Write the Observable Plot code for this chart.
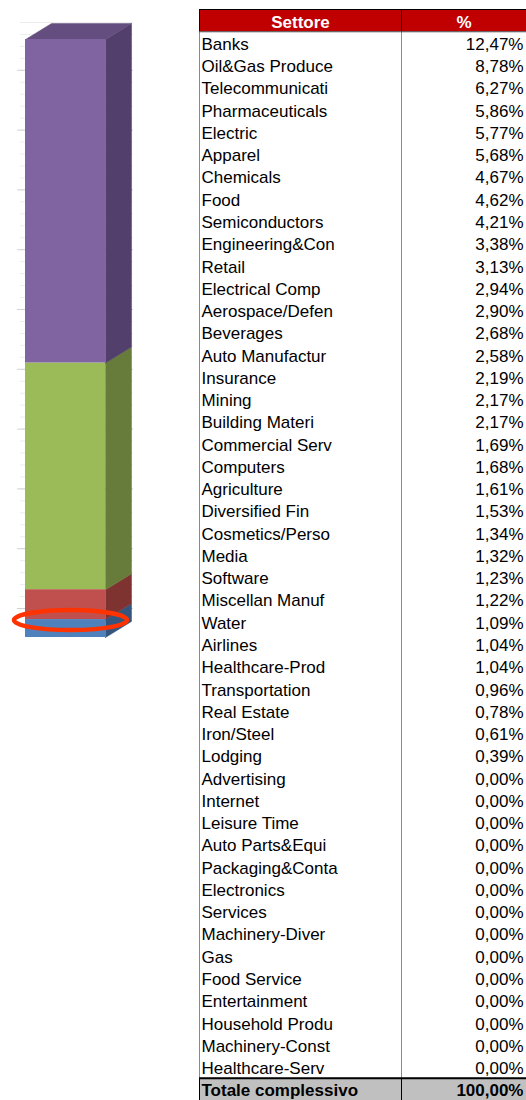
<!DOCTYPE html>
<html><head><meta charset="utf-8">
<script src="https://cdn.jsdelivr.net/npm/d3@7"></script>
<script src="https://cdn.jsdelivr.net/npm/@observablehq/plot@0.6"></script>
<style>
body{margin:0;background:#fff;}
#wrap{display:flex;align-items:flex-start;width:526px;height:1100px;overflow:hidden;}
#wrap svg{flex:none;max-width:none;}
</style></head><body><div id="wrap"></div>
<script>
// ---------- data ----------
const headers = ["Settore", "%"];
const sectors = ["Banks","Oil&Gas Produce","Telecommunicati","Pharmaceuticals","Electric","Apparel","Chemicals","Food","Semiconductors","Engineering&Con","Retail","Electrical Comp","Aerospace/Defen","Beverages","Auto Manufactur","Insurance","Mining","Building Materi","Commercial Serv","Computers","Agriculture","Diversified Fin","Cosmetics/Perso","Media","Software","Miscellan Manuf","Water","Airlines","Healthcare-Prod","Transportation","Real Estate","Iron/Steel","Lodging","Advertising","Internet","Leisure Time","Auto Parts&Equi","Packaging&Conta","Electronics","Services","Machinery-Diver","Gas","Food Service","Entertainment","Household Produ","Machinery-Const","Healthcare-Serv"];
const shares = [12.47,8.78,6.27,5.86,5.77,5.68,4.67,4.62,4.21,3.38,3.13,2.94,2.90,2.68,2.58,2.19,2.17,2.17,1.69,1.68,1.61,1.53,1.34,1.32,1.23,1.22,1.09,1.04,1.04,0.96,0.78,0.61,0.39,0,0,0,0,0,0,0,0,0,0,0,0,0,0];
const totalLabel = "Totale complessivo";
const totalShare = 100.00;

const groups = ["Gruppo 1","Gruppo 2","Gruppo 3","Gruppo 4"];
const groupValues = [3.0, 5.0, 37.9, 54.1];
const gridMinor = d3.range(0, 99, 2);
const gridMajor = d3.range(0, 91, 10);

// ---------- styles / layout ----------
const frontColors = ["#4f81bd","#c0504d","#9bbb59","#8064a2"];
const sideColors  = ["#34557e","#7e3331","#677c3a","#533f6b"];
const topColor = "#634e7f";
const FONT = "'Liberation Sans', Arial, sans-serif";

const BAR_W = 198, BAR_H = 660, FRONT_TOP = 39, FRONT_BOTTOM = 637;
const unit = (FRONT_BOTTOM - FRONT_TOP) / 100;  // px per value unit
const BX1 = 25, BX2 = 105, DX = 26;
const DY = 16 / unit;          // bar depth (value units)
const WALL = 29 / unit;        // back-wall offset (value units)

const fmt = d3.formatLocale({decimal: ",", thousands: ".", grouping: [3]}).format(".2f");
const pct = v => fmt(v) + "%";

// ---------- stacked 3D bar ----------
let acc = 0;
const segs = groups.map((g, i) => {
  const y1 = acc; acc += groupValues[i];
  return {g, y1, y2: acc, front: frontColors[i], side: sideColors[i]};
});
const stackTop = acc;

const sideMarks = segs.map(s => Plot.line([
  {x: BX2, y: s.y1}, {x: BX2 + DX, y: s.y1 + DY}, {x: BX2 + DX, y: s.y2 + DY}, {x: BX2, y: s.y2}, {x: BX2, y: s.y1}
], {x: "x", y: "y", fill: s.side, stroke: s.side, strokeWidth: 0.5, curve: "linear"}));

const topMark = Plot.line([
  {x: BX1, y: stackTop}, {x: BX2, y: stackTop}, {x: BX2 + DX, y: stackTop + DY}, {x: BX1 + DX, y: stackTop + DY}, {x: BX1, y: stackTop}
], {x: "x", y: "y", fill: topColor, stroke: topColor, strokeWidth: 0.5});

const barPlot = Plot.plot({
  width: BAR_W, height: BAR_H,
  marginTop: FRONT_TOP, marginBottom: BAR_H - FRONT_BOTTOM, marginLeft: 0, marginRight: 0,
  x: {domain: [0, BAR_W], axis: null},
  y: {domain: [0, 100], axis: null},
  color: {type: "identity"},
  style: {fontFamily: FONT, background: "white", overflow: "visible"},
  marks: [
    Plot.ruleY(gridMinor, {y: v => v + WALL, x1: 20, x2: 133, stroke: "#ededed", strokeWidth: 1}),
    Plot.ruleY(gridMajor, {y: v => v + WALL, x1: 17, x2: 133, stroke: "#d2d2d2", strokeWidth: 1}),
    ...sideMarks,
    topMark,
    Plot.rect(segs, {x1: BX1, x2: BX2, y1: "y1", y2: "y2", fill: "front"})
  ]
});
{
  const xs = barPlot.scale("x"), ys = barPlot.scale("y");
  const b = segs[0];
  d3.select(barPlot).append("ellipse")
    .attr("cx", xs.apply(70.5))
    .attr("cy", ys.apply((b.y1 + b.y2) / 2 + DY / 2))
    .attr("rx", 56.5).attr("ry", 10)
    .attr("fill", "none").attr("stroke", "#ff3300").attr("stroke-width", 4.5);
}

// ---------- table ----------
const rows = sectors.map((s, i) => ({name: s, value: shares[i], r: i + 1}));
const nRows = sectors.length + 2;
const SPLIT = 202 / 327;
const TW = 328;

const tablePlot = Plot.plot({
  width: TW, height: 1100,
  marginLeft: 1, marginRight: 0, marginTop: 9, marginBottom: 0,
  x: {domain: [0, 1], axis: null},
  y: {domain: [0, nRows], range: [9, 1100], axis: null},
  style: {fontFamily: FONT, fontSize: "17px", background: "white"},
  marks: [
    Plot.rect([0], {x1: 0, x2: 1, y1: 0, y2: 1, fill: "#c00000"}),
    Plot.rect([0], {x1: 0, x2: 1, y1: nRows - 1, y2: nRows, fill: "#c0c0c0"}),
    Plot.ruleX([0, SPLIT], {x: d => d, y1: 1, y2: nRows - 1, stroke: "#8a8a8a"}),
    Plot.ruleX([0, SPLIT], {x: d => d, y1: 0, y2: 1, stroke: "#000"}),
    Plot.ruleX([0, SPLIT], {x: d => d, y1: nRows - 1, y2: nRows, stroke: "#000"}),
    Plot.ruleY([0], {y: d => d, x1: 0, x2: 1, stroke: "#000"}),
    Plot.ruleY([1], {y: d => d, x1: 0, x2: 1, stroke: "#444"}),
    Plot.ruleY([nRows - 1], {y: d => d, x1: 0, x2: 1, stroke: "#000", strokeWidth: 2}),
    Plot.text([headers[0]], {x: SPLIT / 2, y: 0.5, text: d => d, fill: "white", fontWeight: "bold", fontSize: 17, dy: 1.5}),
    Plot.text([headers[1]], {x: (SPLIT + 1) / 2, y: 0.5, text: d => d, fill: "white", fontWeight: "bold", fontSize: 17, dy: 1.5}),
    Plot.text(rows, {x: 0, y: d => d.r + 0.5, text: "name", textAnchor: "start", dx: 2, dy: 1.5, fontSize: 17, fill: "#000"}),
    Plot.text(rows, {x: 1, y: d => d.r + 0.5, text: d => pct(d.value), textAnchor: "end", dx: -3, dy: 1.5, fontSize: 17, fill: "#000"}),
    Plot.text([totalLabel], {x: 0, y: nRows - 0.5, text: d => d, textAnchor: "start", dx: 2, dy: 1.5, fontSize: 17, fontWeight: "bold", fill: "#000"}),
    Plot.text([totalShare], {x: 1, y: nRows - 0.5, text: d => pct(d), textAnchor: "end", dx: -3, dy: 1.5, fontSize: 17, fontWeight: "bold", fill: "#000"})
  ]
});

const wrap = document.getElementById("wrap");
wrap.appendChild(barPlot);
wrap.appendChild(tablePlot);
</script></body></html>
